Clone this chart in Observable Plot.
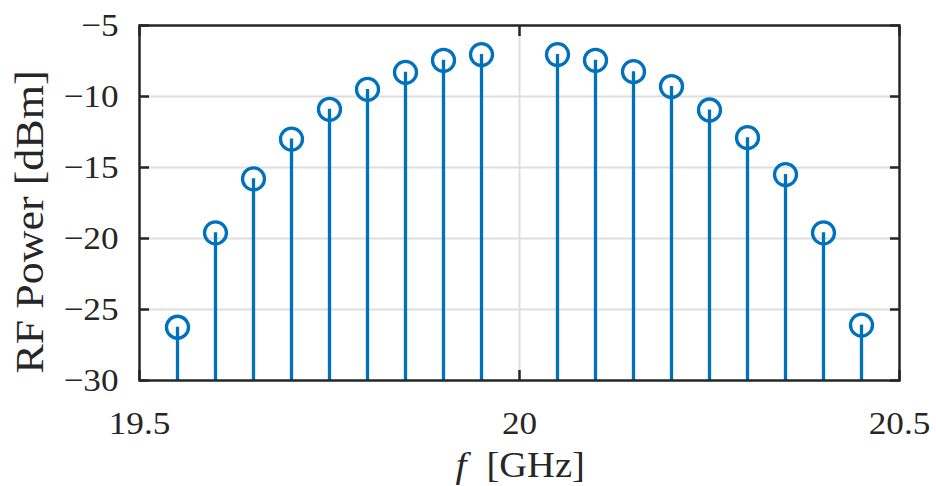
<!DOCTYPE html>
<html>
<head>
<meta charset="utf-8">
<script src="https://cdn.jsdelivr.net/npm/d3@7"></script>
<script src="https://cdn.jsdelivr.net/npm/@observablehq/plot@0.6"></script>
<style>
  html, body { margin: 0; padding: 0; background: #fff; }
  #chart svg { display: block; }
</style>
</head>
<body>
<div id="chart"></div>
<script>
// RF power of the comb lines around the 20 GHz carrier
const freqGHz = [19.55, 19.60, 19.65, 19.70, 19.75, 19.80, 19.85, 19.90, 19.95,
                 20.05, 20.10, 20.15, 20.20, 20.25, 20.30, 20.35, 20.40, 20.45];
const powerDbm = [-26.25, -19.6, -15.8, -13.0, -10.9, -9.5, -8.3, -7.45, -7.05,
                  -7.05, -7.45, -8.25, -9.3, -10.95, -12.9, -15.5, -19.6, -26.1];

const xDomain = [19.5, 20.5];
const yDomain = [-30, -5];
const xTicks = [19.5, 20, 20.5];
const xTickLabels = ["19.5", "20", "20.5"];
const yTicks = [-30, -25, -20, -15, -10, -5];
const yTickLabels = ["\u221230", "\u221225", "\u221220", "\u221215", "\u221210", "\u22125"];
const xGrid = [20];
const yGrid = [-25, -20, -15, -10];

const xLabel = "[GHz]";
const xLabelVar = "f";
const yLabel = "RF Power [dBm]";

const rows = freqGHz.map((f, i) => ({f, p: powerDbm[i]}));

const blue = "#0072BD";
const ink = "#262626";
const serif = "'Liberation Serif', 'Times New Roman', serif";

const chart = Plot.plot({
  width: 936,
  height: 486,
  marginLeft: 139,
  marginRight: 37,
  marginTop: 25,
  marginBottom: 106,
  style: {fontFamily: serif, color: ink, background: "#fff"},
  x: {domain: xDomain},
  y: {domain: yDomain},
  marks: [
    // light grid
    Plot.gridY(yGrid, {stroke: "#dedede", strokeOpacity: 1, strokeWidth: 2}),
    Plot.gridX(xGrid, {stroke: "#dedede", strokeOpacity: 1, strokeWidth: 2}),
    // stems and open circle markers
    Plot.ruleX(rows, {x: "f", y1: yDomain[0], y2: "p", stroke: blue, strokeWidth: 3.3}),
    Plot.dot(rows, {x: "f", y: "p", r: 11, stroke: blue, strokeWidth: 3.3, fill: "none"}),
    // box
    Plot.frame({stroke: ink, strokeWidth: 2.5}),
    // inward ticks on all four sides
    Plot.axisY(yTicks, {anchor: "left", tickSize: 10, dx: 10, fill: "none", stroke: ink, strokeWidth: 2.5}),
    Plot.axisY(yTicks, {anchor: "right", tickSize: 10, dx: -10, fill: "none", stroke: ink, strokeWidth: 2.5}),
    Plot.axisX(xTicks, {anchor: "bottom", tickSize: 10, dy: -10, fill: "none", stroke: ink, strokeWidth: 2.5}),
    Plot.axisX(xTicks, {anchor: "top", tickSize: 10, dy: 10, fill: "none", stroke: ink, strokeWidth: 2.5}),
    // tick labels
    Plot.axisY(yTicks, {anchor: "left", tickSize: 0, tickPadding: 21, fontSize: 32, fill: ink, label: null,
      tickFormat: d => yTickLabels[yTicks.indexOf(d)]}),
    Plot.axisX(xTicks, {anchor: "bottom", tickSize: 0, tickPadding: 31, fontSize: 32, fill: ink, label: null,
      tickFormat: d => xTickLabels[xTicks.indexOf(d)]}),
    // axis titles
    Plot.text([yLabel], {text: d => d, frameAnchor: "left", rotate: -90, dx: -97, dy: 19,
      lineAnchor: "bottom", textAnchor: "middle", fontSize: 40, fill: ink}),
    Plot.text([xLabelVar], {text: d => d, frameAnchor: "bottom", dx: -64, dy: 96,
      lineAnchor: "bottom", textAnchor: "start", fontSize: 36, fontStyle: "italic", fill: ink}),
    Plot.text([xLabel], {text: d => d, frameAnchor: "bottom", dx: -33, dy: 96,
      lineAnchor: "bottom", textAnchor: "start", fontSize: 35, fill: ink})
  ]
});

document.getElementById("chart").append(chart);

// widen the serif glyphs slightly so they sit closer to a Computer Modern look
chart.querySelectorAll("text").forEach(t => {
  const len = t.getComputedTextLength();
  if (len > 0) {
    t.setAttribute("textLength", (len * 1.1).toFixed(1));
    t.setAttribute("lengthAdjust", "spacingAndGlyphs");
  }
});
</script>
</body>
</html>
